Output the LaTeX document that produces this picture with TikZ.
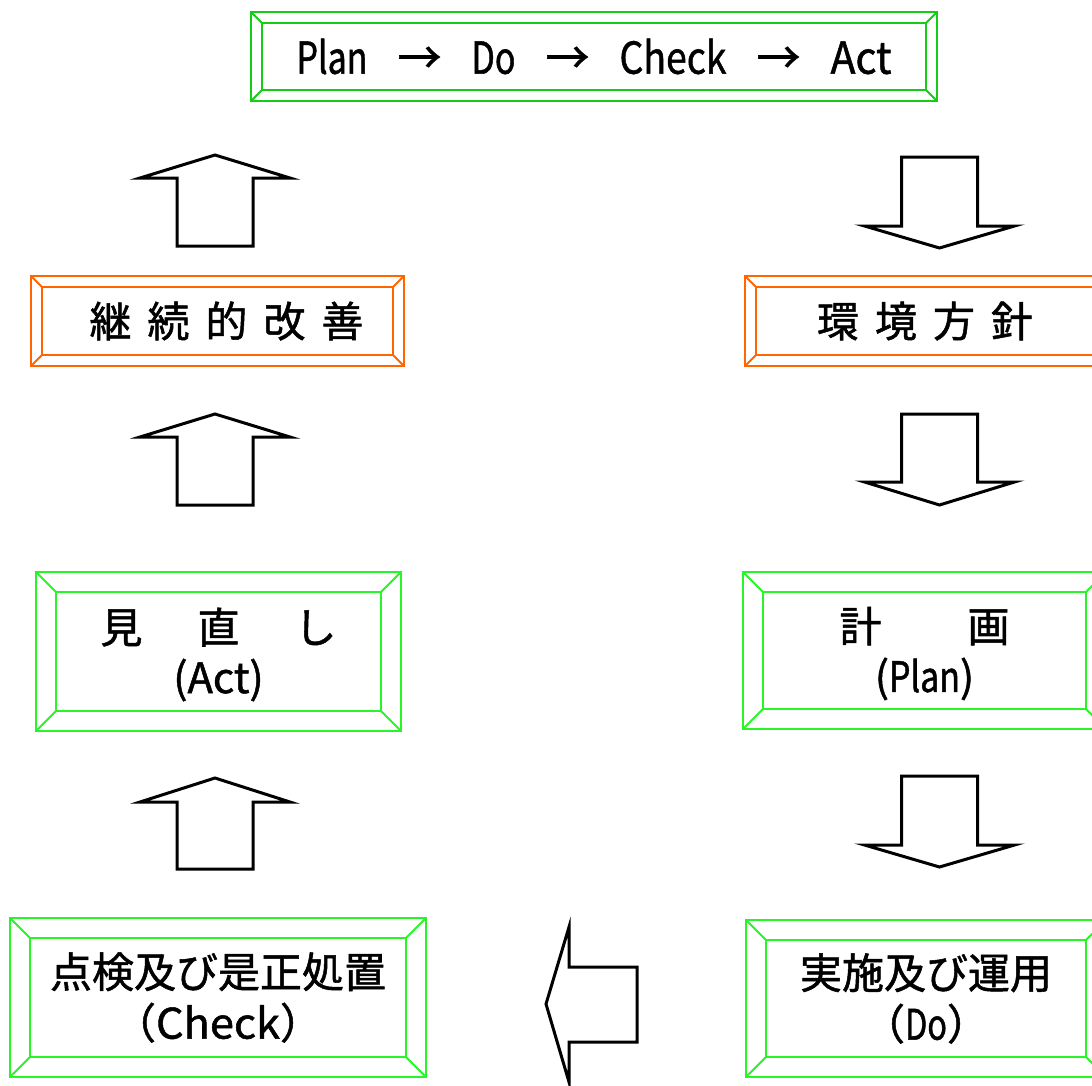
\documentclass[tikz,border=0pt]{standalone}
\usepackage{fontspec}
\setmainfont{Noto Sans CJK JP}[FakeBold=1.2]
\usepackage{graphicx}
\newcommand{\latw}[2]{\resizebox{#1}{\height}{#2}}
\newcommand{\lowr}[1]{\raisebox{-1.5pt}[\height][\depth]{#1}}
\definecolor{gtop}{RGB}{20,205,20}
\definecolor{gbr}{RGB}{40,245,40}
\definecolor{orng}{RGB}{255,102,0}
\tikzset{
  bx/.style={draw=#1, line width=1pt, outer sep=0pt, inner sep=0pt, text=black,
    font=\fontsize{21}{25}\selectfont},
  blk/.style={draw=black, line width=1.5pt, line join=miter, fill=white},
}
\newcommand{\bev}[3]{%
  \draw[#3, line width=1pt] ([shift={(#2,#2)}]#1.north west) rectangle ([shift={(-#2,-#2)}]#1.south east);
  \draw[#3, line width=1pt] (#1.north west) -- ([shift={(#2,#2)}]#1.north west)
    (#1.north east) -- ([shift={(-#2,#2)}]#1.north east)
    (#1.south east) -- ([shift={(-#2,-#2)}]#1.south east)
    (#1.south west) -- ([shift={(#2,-#2)}]#1.south west);
}
\newcommand{\uparr}[4]{%
  \draw[blk] (#1,#2) -- (#1+75,#3) -- (#1+38,#3) -- (#1+38,#4) -- (#1-38,#4) -- (#1-38,#3) -- (#1-75,#3) -- cycle;}
\newcommand{\dnarr}[4]{%
  \draw[blk] (#1,#4) -- (#1+75,#3) -- (#1+38,#3) -- (#1+38,#2) -- (#1-38,#2) -- (#1-38,#3) -- (#1-75,#3) -- cycle;}
\begin{document}
\begin{tikzpicture}[x=0.5pt,y=-0.5pt]
\useasboundingbox (0,0) rectangle (1092,1086);
\clip (0,0) rectangle (1092,1086);
\fill[white] (0,0) rectangle (1092,1086);

% boxes
\node[bx=gtop, minimum width=343pt, minimum height=44.5pt, font=\fontsize{22}{26}\selectfont]
  (pdca) at (594,56.5) {\latw{35.5pt}{Plan}\hspace{15pt}→\hspace{15pt}\latw{22pt}{Do}\hspace{15pt}→\hspace{15pt}\latw{53.5pt}{Check}\hspace{15pt}→\hspace{15pt}\latw{30.5pt}{Act}};
\bev{pdca}{11}{gtop}

\node[bx=orng, minimum width=186.5pt, minimum height=45pt] (kaizen) at (217.5,321)
  {\hspace*{9pt}継\hspace{8pt}続\hspace{8pt}的\hspace{8pt}改\hspace{8pt}善};
\bev{kaizen}{11}{orng}

\node[bx=orng, minimum width=180pt, minimum height=45pt] (houshin) at (925,321)
  {環\hspace{8pt}境\hspace{8pt}方\hspace{8pt}針};
\bev{houshin}{11}{orng}

\node[bx=gbr, minimum width=182.5pt, minimum height=79.5pt, align=center] (act) at (218.5,651.5)
  {\lowr{見\hspace{27.5pt}直\hspace{27.5pt}し}\\\lowr{(\latw{31pt}{Act})}};
\bev{act}{20}{gbr}

\node[bx=gbr, minimum width=181.5pt, minimum height=78.5pt, align=center] (plan) at (924.5,650.5)
  {\lowr{計\hspace{43pt}画}\\\lowr{(\latw{35.5pt}{Plan})}};
\bev{plan}{20}{gbr}

\node[bx=gbr, minimum width=208pt, minimum height=79.5pt, align=center, font=\fontsize{21}{25.5}\selectfont] (check) at (218,997.5)
  {点検及び是正処置\\（\latw{62pt}{Check}）};
\bev{check}{20}{gbr}

\node[bx=gbr, minimum width=180pt, minimum height=78.5pt, align=center, font=\fontsize{21}{25.5}\selectfont] (do) at (926,998.5)
  {実施及び運用\\（\latw{21pt}{Do}）};
\bev{do}{20}{gbr}

% block arrows
\uparr{215}{155}{178}{246}
\uparr{215}{414}{437}{505}
\uparr{215}{778}{802}{869}
\dnarr{939.5}{157}{226}{248}
\dnarr{939.5}{414}{482}{505}
\dnarr{939.5}{776}{845}{867}
\draw[blk] (546,1004) -- (569,927) -- (569,967) -- (637,967) -- (637,1042) -- (569,1042) -- (569,1082) -- cycle;
\end{tikzpicture}
\end{document}
